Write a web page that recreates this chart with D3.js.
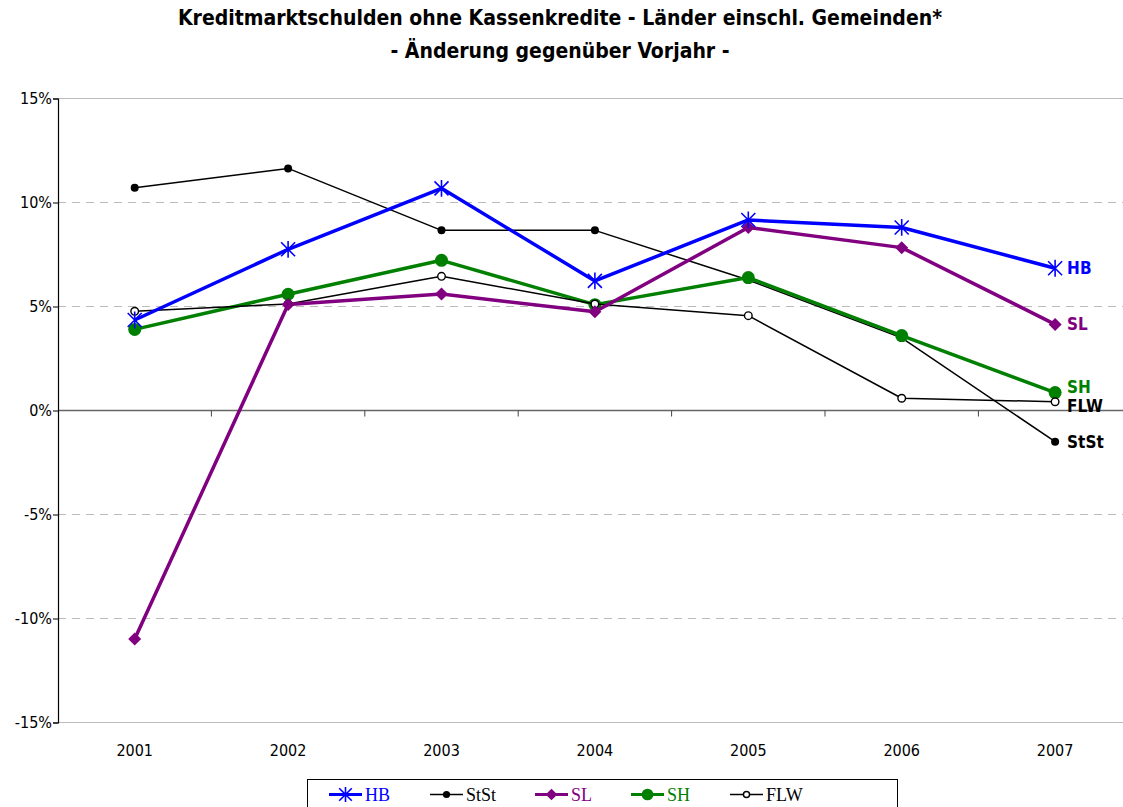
<!DOCTYPE html>
<html>
<head>
<meta charset="utf-8">
<script src="https://cdn.jsdelivr.net/npm/d3@7"></script>
<style>
  body { margin: 0; background: #fff; }
  svg { display: block; }
</style>
</head>
<body>
<svg id="chart" width="1123" height="807"></svg>
<script>
const years = ['2001', '2002', '2003', '2004', '2005', '2006', '2007'];
const yTicks = [-15, -10, -5, 0, 5, 10, 15];

const hb   = [4.35, 7.75, 10.68, 6.23, 9.16, 8.8, 6.84];
const stst = [10.71, 11.64, 8.66, 8.66, 6.27, 3.49, -1.5];
const sl   = [-10.99, 5.1, 5.6, 4.75, 8.8, 7.83, 4.14];
const sh   = [3.9, 5.59, 7.22, 5.09, 6.39, 3.6, 0.86];
const flw  = [4.77, 5.12, 6.45, 5.12, 4.56, 0.59, 0.42];

const seriesNames = ['HB', 'StSt', 'SL', 'SH', 'FLW'];
const seriesValues = [hb, stst, sl, sh, flw];
const seriesColors = ['#0000ff', '#000000', '#800080', '#008000', '#000000'];

const svg = d3.select('#chart');
const margin = {left: 58, top: 98.5, right: 1131.8, bottom: 722.5};
const sansC = '"DejaVu Sans Condensed", "DejaVu Sans", sans-serif';

const x = d3.scaleBand().domain(years).range([margin.left, margin.right]);
const y = d3.scaleLinear().domain([-15, 15]).range([margin.bottom, margin.top]);

// title
svg.append('text')
  .attr('x', 560).attr('y', 25)
  .attr('text-anchor', 'middle')
  .style('font', `bold 21px ${sansC}`)
  .text('Kreditmarktschulden ohne Kassenkredite - Länder einschl. Gemeinden*');
svg.append('text')
  .attr('x', 560).attr('y', 58)
  .attr('text-anchor', 'middle')
  .style('font', `bold 21px ${sansC}`)
  .text('- Änderung gegenüber Vorjahr -');

// grid
svg.append('g').selectAll('line')
  .data(yTicks)
  .enter().append('line')
  .attr('x1', margin.left).attr('x2', margin.right)
  .attr('y1', d => y(d)).attr('y2', d => y(d))
  .attr('stroke', d => (d === 0 ? '#666' : '#bbb'))
  .attr('stroke-width', d => (d === 0 ? 1.5 : 1))
  .attr('stroke-dasharray', d => (Math.abs(d) === 15 || d === 0 ? null : '8,6'));

// y axis
const yAxis = svg.append('g')
  .attr('transform', `translate(${margin.left},0)`)
  .call(d3.axisLeft(y).tickValues(yTicks).tickSize(5).tickFormat(d => d + '%'));
yAxis.select('.domain').attr('stroke', '#000').attr('stroke-width', 1.2);
yAxis.selectAll('.tick line').attr('stroke', '#000');
yAxis.selectAll('text')
  .attr('x', -6)
  .style('font', `16px ${sansC}`)
  .attr('fill', '#000');

// category ticks on the zero line
svg.append('g').selectAll('line')
  .data(years.slice(1))
  .enter().append('line')
  .attr('x1', d => x(d)).attr('x2', d => x(d))
  .attr('y1', y(0)).attr('y2', y(0) + 6)
  .attr('stroke', '#444');

svg.append('g').selectAll('text')
  .data(years)
  .enter().append('text')
  .attr('x', d => x(d) + x.bandwidth() / 2)
  .attr('y', 756)
  .attr('text-anchor', 'middle')
  .style('font', `16px ${sansC}`)
  .text(d => d);

// markers
function marker(g, type, color, cx, cy, scale) {
  const s = scale || 1;
  if (type === 'star') {
    const r = 7 * s;
    g.append('path')
      .attr('d', `M${cx - r},${cy - r}L${cx + r},${cy + r}M${cx - r},${cy + r}L${cx + r},${cy - r}M${cx},${cy - r * 1.2}L${cx},${cy + r * 1.2}`)
      .attr('stroke', color).attr('stroke-width', 1.6).attr('fill', 'none');
  } else if (type === 'dot') {
    g.append('circle').attr('cx', cx).attr('cy', cy).attr('r', 4 * s).attr('fill', color);
  } else if (type === 'diamond') {
    const r = 6.5 * s;
    g.append('path')
      .attr('d', `M${cx},${cy - r}L${cx + r},${cy}L${cx},${cy + r}L${cx - r},${cy}Z`)
      .attr('fill', color);
  } else if (type === 'bigdot') {
    g.append('circle').attr('cx', cx).attr('cy', cy).attr('r', 6.5 * s).attr('fill', color);
  } else if (type === 'open') {
    g.append('circle').attr('cx', cx).attr('cy', cy).attr('r', 3.8 * s)
      .attr('fill', '#fff').attr('stroke', color).attr('stroke-width', 1.4);
  }
}

const markerTypes = ['star', 'dot', 'diamond', 'bigdot', 'open'];
const lineWidths = [3.5, 1.5, 3.5, 3.5, 1.5];

const line = d3.line()
  .x((d, i) => x(years[i]) + x.bandwidth() / 2)
  .y(d => y(d));

// draw order like the reference
const order = [1, 3, 4, 2, 0];
order.forEach(k => {
  const g = svg.append('g');
  g.append('path')
    .attr('d', line(seriesValues[k]))
    .attr('fill', 'none')
    .attr('stroke', seriesColors[k])
    .attr('stroke-width', lineWidths[k])
    .attr('stroke-linejoin', 'round');
  seriesValues[k].forEach((v, i) => {
    marker(g, markerTypes[k], seriesColors[k], x(years[i]) + x.bandwidth() / 2, y(v));
  });
});

// end labels
const endOffsets = [0, 0, 0, -6, 4];
seriesNames.forEach((name, k) => {
  const vals = seriesValues[k];
  svg.append('text')
    .attr('x', x('2007') + x.bandwidth() / 2 + 12)
    .attr('y', y(vals[vals.length - 1]) + 6 + endOffsets[k])
    .style('font', `bold 17px ${sansC}`)
    .attr('fill', seriesColors[k])
    .text(name);
});

// legend
const legend = svg.append('g');
legend.append('rect')
  .attr('x', 307.5).attr('y', 779.5)
  .attr('width', 590).attr('height', 40)
  .attr('fill', '#fff').attr('stroke', '#000').attr('stroke-width', 1);
const legendX = [329, 430, 535, 631, 730];
seriesNames.forEach((name, k) => {
  const lx = legendX[k];
  const ly = 794.5;
  legend.append('line')
    .attr('x1', lx).attr('x2', lx + 33)
    .attr('y1', ly).attr('y2', ly)
    .attr('stroke', seriesColors[k])
    .attr('stroke-width', lineWidths[k] - (lineWidths[k] > 2 ? 0.5 : 0));
  marker(legend, markerTypes[k], seriesColors[k], lx + 16.5, ly, markerTypes[k] === 'open' ? 0.8 : 0.9);
  legend.append('text')
    .attr('x', lx + 36).attr('y', ly + 6)
    .style('font', '18px "Liberation Serif", "Times New Roman", serif')
    .attr('fill', seriesColors[k])
    .text(name);
});
</script>
</body>
</html>
